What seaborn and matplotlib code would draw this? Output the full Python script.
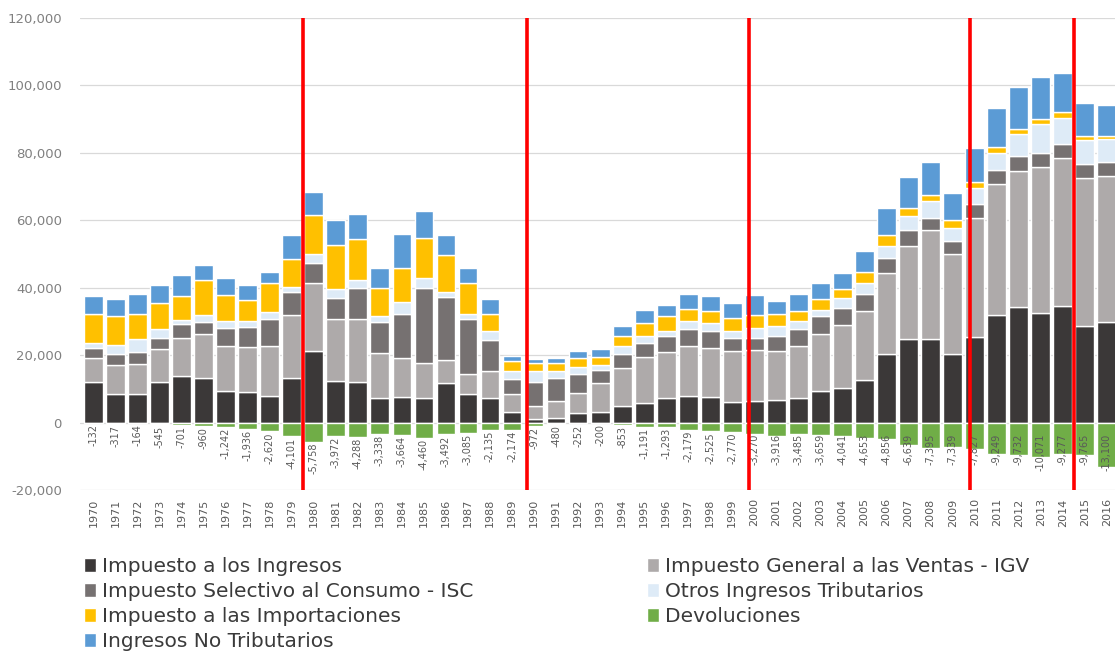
import numpy as np
import matplotlib
matplotlib.use("Agg")
import matplotlib.pyplot as plt
import seaborn as sns
from matplotlib.patches import Patch
from matplotlib.ticker import FuncFormatter

years = list(range(1970, 2017))

ingresos = [11900, 8400, 8400, 11900, 13800, 13300, 9400, 9100, 7900, 13300,
            21200, 12300, 11900, 7400, 7700, 7400, 11600, 8400, 7400, 3000,
            1000, 1400, 2700, 3100, 4800, 5800, 7300, 7800, 7600, 6100,
            6300, 6600, 7300, 9300, 10300, 12500, 20300, 24800, 24800, 20300,
            25300, 32000, 34200, 32500, 34700, 28700, 29700]
igv = [7400, 8600, 9100, 9800, 11400, 12900, 13300, 13400, 14800, 18600,
       20100, 18500, 18700, 13300, 11600, 10400, 7000, 5900, 7900, 5400,
       3900, 4900, 6100, 8700, 11400, 13700, 13500, 15000, 14500, 15000,
       15300, 14500, 15300, 17100, 18700, 20500, 24000, 27600, 32400, 29600,
       35300, 38800, 40500, 43300, 43700, 43800, 43300]
isc = [2900, 3200, 3500, 3500, 3900, 3600, 5400, 5900, 7900, 6800,
       6100, 6200, 9400, 9100, 13000, 22200, 18600, 16500, 9200, 4400,
       7000, 6900, 5700, 3700, 4200, 4100, 4800, 5000, 5000, 4000,
       3600, 4500, 5200, 5100, 5000, 5100, 4500, 4800, 3400, 4100,
       4300, 4000, 4400, 4300, 4300, 4200, 4200]
otros = [1500, 2700, 3700, 2500, 1300, 2100, 2000, 1700, 2200, 1600,
         2500, 2500, 2200, 1800, 3500, 2800, 1500, 1300, 2700, 2500,
         3400, 2000, 2000, 1700, 2200, 2200, 1700, 2200, 2400, 2200,
         2800, 2900, 2200, 2000, 2900, 3300, 3600, 4100, 5000, 3800,
         4600, 5300, 6500, 8400, 7600, 7200, 6800]
importaciones = [8400, 8700, 7400, 7900, 7100, 10300, 7700, 6200, 8500, 8100,
                 11800, 13300, 12300, 8400, 10100, 12000, 10900, 9400, 4900, 3000,
                 2500, 2500, 2700, 2300, 3200, 3700, 4200, 3700, 3500, 3700,
                 3800, 3800, 3000, 3100, 2700, 3200, 3300, 2300, 2000, 2300,
                 2000, 1600, 1400, 1500, 1900, 1100, 1000]
no_tributarios = [5400, 5200, 5900, 5100, 6200, 4400, 5200, 4400, 3400, 7100,
                  6600, 7200, 7400, 5900, 10100, 8100, 5900, 4400, 4600, 1500,
                  1000, 1500, 1900, 2400, 2700, 3800, 3500, 4500, 4400, 4500,
                  6100, 3900, 5100, 4800, 4900, 6400, 7900, 9100, 9800, 7900,
                  9900, 11700, 12400, 12400, 11600, 9700, 9200]
devoluciones = [-132, -317, -164, -545, -701, -960, -1242, -1936, -2620, -4101,
                -5758, -3972, -4288, -3338, -3664, -4460, -3492, -3085, -2135, -2174,
                -972, -480, -252, -200, -853, -1191, -1293, -2179, -2525, -2770,
                -3270, -3916, -3485, -3659, -4041, -4653, -4856, -6639, -7395, -7339,
                -7827, -9249, -9732, -10071, -9277, -9765, -13100]

nombres = ["Impuesto a los Ingresos", "Impuesto General a las Ventas - IGV",
           "Impuesto Selectivo al Consumo - ISC", "Otros Ingresos Tributarios",
           "Impuesto a las Importaciones", "Ingresos No Tributarios", "Devoluciones"]
colores = ["#3b3838", "#aeaaaa", "#767171", "#deebf7", "#ffc000", "#5b9bd5", "#70ad47"]

# posiciones de las lineas rojas (indice de categoria)
cortes = [9.5, 19.7, 29.75, 39.8, 44.5]

sns.set_theme(style="white")
plt.rcParams["font.family"] = ["DejaVu Sans"]

fig = plt.figure(figsize=(11.15, 6.52), dpi=100)
ax = fig.add_axes([80 / 1115, 1 - 490 / 652, 1 - 80 / 1115, (490 - 18) / 652])

base = np.zeros(len(years))
for nombre, vals, col in zip(nombres[:6], [ingresos, igv, isc, otros, importaciones, no_tributarios], colores[:6]):
    sns.barplot(x=years, y=vals, bottom=base, color=col, saturation=1, width=0.85,
                errorbar=None, label=nombre, ax=ax, zorder=2)
    base = base + np.array(vals)
sns.barplot(x=years, y=devoluciones, color=colores[6], saturation=1, width=0.85,
            errorbar=None, label=nombres[6], ax=ax, zorder=2)

if ax.get_legend() is not None:
    ax.get_legend().remove()

# etiquetas de devoluciones
for i, (yr, d) in enumerate(zip(years, devoluciones)):
    top = d - 300 if yr < 2000 else max(d, -3000) - 300
    ax.text(i, top, f"{d:,}", rotation=90, ha="center", va="top",
            fontsize=7, color="#595959", zorder=4)

for c in cortes:
    ax.axvline(c, color="#ff0000", lw=2.6, zorder=5)

ax.set_xlim(-0.61, 46.37)
ax.set_ylim(-20000, 120000)
ax.set_yticks(range(-20000, 120001, 20000))
ax.yaxis.set_major_formatter(FuncFormatter(lambda v, p: f"{int(v):,}"))
ax.yaxis.grid(True, color="#d9d9d9", lw=0.9)
ax.set_axisbelow(True)
ax.set_xlabel("")
ax.set_ylabel("")
sns.despine(ax=ax, left=True, bottom=True)
ax.tick_params(axis="y", length=0, pad=13, labelsize=9.5, labelcolor="#808080")
ax.tick_params(axis="x", length=0, pad=6, labelsize=8, labelcolor="#595959", labelrotation=90)

# leyenda en dos columnas
hs, ls = ax.get_legend_handles_labels()
mapa = dict(zip(ls, hs))
handles = [mapa.get(n, Patch(color=c)) for n, c in zip(nombres, colores)]
col1 = [0, 2, 4, 5]
col2 = [1, 3, 6]
kw = dict(loc="upper left", frameon=False, fontsize=14.5, handlelength=0.6, handleheight=0.7,
          handletextpad=0.3, labelspacing=0.3, borderpad=0, borderaxespad=0,
          labelcolor="#3a3a3a")
fig.legend([handles[i] for i in col1], [nombres[i] for i in col1],
           bbox_to_anchor=(84 / 1115, 1 - 557 / 652), **kw)
fig.legend([handles[i] for i in col2], [nombres[i] for i in col2],
           bbox_to_anchor=(647 / 1115, 1 - 557 / 652), **kw)

fig.savefig("out.png", dpi=100)
